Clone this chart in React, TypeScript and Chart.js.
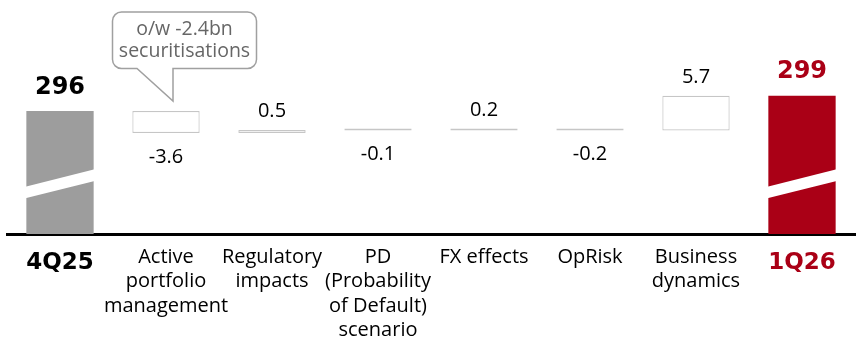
import React, { useEffect, useRef } from "react";
import { Chart, registerables } from "chart.js";

Chart.register(...registerables);

// ---- data ----
const categories: (string | string[])[] = [
  "4Q25",
  ["Active", "portfolio", "management"],
  ["Regulatory", "impacts"],
  ["PD", "(Probability", "of Default)", "scenario"],
  "FX effects",
  "OpRisk",
  ["Business", "dynamics"],
  "1Q26",
];
const startTotal = 296.4;
const endTotal = 298.9;
const deltas = [-3.6, 0.5, -0.1, 0.2, -0.2, 5.7];
const calloutLines = ["o/w -2.4bn", "securitisations"];
const calloutIndex = 1;

// axis range (broken axis)
const Y_MIN = 276.3;
const Y_MAX = 312.9;
const BREAK_VALUE = 284.5;

const GRAY = "#9d9d9d";
const RED = "#aa0016";
const BOX_BORDER = "#c6c6c6";

const REG_FONT = "'Open Sans', sans-serif";
const BOLD_FONT = "'DejaVu Sans', sans-serif";

function buildData() {
  const data: (number | [number, number])[] = [startTotal];
  let lvl = startTotal;
  for (const d of deltas) {
    data.push([lvl, lvl + d]);
    lvl = lvl + d;
  }
  data.push(endTotal);
  return data;
}

const overlayPlugin = {
  id: "overlay",
  afterDatasetsDraw(chart: any) {
    const ctx = chart.ctx as CanvasRenderingContext2D;
    const meta = chart.getDatasetMeta(0);
    const yScale = chart.scales.y;
    const n = categories.length;
    ctx.save();
    meta.data.forEach((bar: any, i: number) => {
      const { x, y, base, width } = bar.getProps(["x", "y", "base", "width"], true);
      const top = Math.min(y, base);
      const bottom = Math.max(y, base);
      ctx.textAlign = "center";
      ctx.textBaseline = "middle";
      if (i === 0 || i === n - 1) {
        // break stripe
        const yc = yScale.getPixelForValue(BREAK_VALUE);
        const half = width / 2 + 1;
        const slope = 8.7;
        const th = 5.8;
        ctx.fillStyle = "#ffffff";
        ctx.beginPath();
        ctx.moveTo(x - half, yc + slope - th);
        ctx.lineTo(x + half, yc - slope - th);
        ctx.lineTo(x + half, yc - slope + th);
        ctx.lineTo(x - half, yc + slope + th);
        ctx.closePath();
        ctx.fill();
        // total label
        const v = i === 0 ? startTotal : endTotal;
        ctx.font = `bold 24px ${BOLD_FONT}`;
        ctx.fillStyle = i === 0 ? "#000000" : RED;
        ctx.fillText(String(Math.round(v)), x, top - 23.5);
      } else {
        const d = deltas[i - 1];
        ctx.font = `20px ${REG_FONT}`;
        ctx.fillStyle = "#000000";
        const txt = d.toFixed(1);
        if (d > 0) ctx.fillText(txt, x, top - 18.5);
        else ctx.fillText(txt, x, bottom + 24);
      }
      if (i === calloutIndex) {
        // callout bubble
        const tipX = x + 7;
        const tipY = top - 10;
        const bx0 = x - 53.5;
        const bx1 = x + 90.5;
        const by0 = top - 99;
        const by1 = top - 42.5;
        const r = 9;
        const tailL = x - 29;
        const tailR = tipX;
        ctx.beginPath();
        ctx.moveTo(bx0 + r, by0);
        ctx.lineTo(bx1 - r, by0);
        ctx.arcTo(bx1, by0, bx1, by0 + r, r);
        ctx.lineTo(bx1, by1 - r);
        ctx.arcTo(bx1, by1, bx1 - r, by1, r);
        ctx.lineTo(tailR, by1);
        ctx.lineTo(tipX, tipY);
        ctx.lineTo(tailL, by1);
        ctx.lineTo(bx0 + r, by1);
        ctx.arcTo(bx0, by1, bx0, by1 - r, r);
        ctx.lineTo(bx0, by0 + r);
        ctx.arcTo(bx0, by0, bx0 + r, by0, r);
        ctx.closePath();
        ctx.fillStyle = "#ffffff";
        ctx.fill();
        ctx.strokeStyle = "#a0a0a0";
        ctx.lineWidth = 1.5;
        ctx.stroke();
        ctx.fillStyle = "#666666";
        ctx.font = `19.5px ${REG_FONT}`;
        const cx = (bx0 + bx1) / 2;
        ctx.fillText(calloutLines[0], cx, by0 + 17.5);
        ctx.fillText(calloutLines[1], cx, by0 + 39.5);
      }
    });
    ctx.restore();
  },
};

export default function App() {
  const ref = useRef<HTMLCanvasElement | null>(null);
  useEffect(() => {
    if (!ref.current) return;
    const n = categories.length;
    const bg = categories.map((_, i) => (i === 0 ? GRAY : i === n - 1 ? RED : "#ffffff"));
    const bw = categories.map((_, i) => (i === 0 || i === n - 1 ? 0 : 1.2));
    const chart = new Chart(ref.current, {
      type: "bar",
      data: {
        labels: categories,
        datasets: [
          {
            data: buildData() as any,
            backgroundColor: bg,
            borderColor: BOX_BORDER,
            borderWidth: bw,
            borderSkipped: false,
            minBarLength: 2,
            categoryPercentage: 1,
            barPercentage: 0.635,
          },
        ],
      },
      options: {
        responsive: false,
        animation: false,
        layout: { padding: { top: 10, left: 7, right: 3, bottom: 0 } },
        plugins: { legend: { display: false }, tooltip: { enabled: false } },
        scales: {
          y: { display: false, min: Y_MIN, max: Y_MAX },
          x: {
            grid: { display: false, drawTicks: false },
            border: { display: true, color: "#000000", width: 3 },
            ticks: {
              autoSkip: false,
              maxRotation: 0,
              minRotation: 0,
              padding: 11,
              color: (c: any) => (c.index === n - 1 ? RED : "#000000"),
              font: (c: any) =>
                c.index === 0 || c.index === n - 1
                  ? { family: BOLD_FONT, size: 23, weight: "bold", lineHeight: "37px" }
                  : { family: REG_FONT, size: 20, weight: "normal", lineHeight: "24.5px" },
            },
          },
        },
      },
      plugins: [overlayPlugin],
    });
    return () => chart.destroy();
  }, []);
  return (
    <div style={{ position: "fixed", left: 0, top: 0, width: 858, height: 354, background: "#fff" }}>
      <canvas ref={ref} width={858} height={354} style={{ display: "block" }} />
    </div>
  );
}
